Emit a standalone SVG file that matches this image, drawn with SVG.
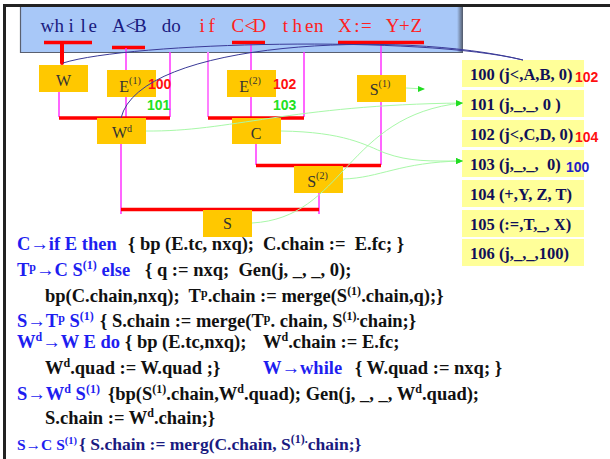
<svg xmlns="http://www.w3.org/2000/svg" width="610" height="459" viewBox="0 0 610 459">
  <style>
    .lbl { font-family: "Liberation Serif", serif; font-size: 16px; fill: #333; text-anchor: middle; }
    .sup { font-size: 10px; }
    .box { fill: #FFC800; }
    .quad { fill: #FFFF99; }
    .qt { font-family: "Liberation Serif", serif; font-weight: bold; font-size: 16.5px; fill: #101058; }
    .num { font-family: "Liberation Sans", Arial, sans-serif; font-weight: bold; font-size: 14px; }
    .red { fill: #FF1010; }
    .grn { fill: #22E022; }
    .mag { stroke: #FF33FF; stroke-width: 1.5; fill: none; }
    .bar { stroke: #FF0000; stroke-width: 3.5; fill: none; }
    .blue { stroke: #3A3A98; stroke-width: 1; fill: none; }
    .green { stroke: #A8F8A8; stroke-width: 1; fill: none; }
    .code { font-family: "Liberation Serif", serif; font-weight: bold; font-size: 18.5px; fill: #111; }
    .prod { fill: #1E1EF0; }
    .navy { fill: #1A1A80; }
    .s { font-size: 12px; }
    .title { font-family: "Liberation Serif", serif; font-size: 19px; text-anchor: middle; }
  </style>
  <defs>
    <marker id="garrow" markerUnits="userSpaceOnUse" markerWidth="7" markerHeight="6" refX="6" refY="3" orient="auto">
      <path d="M0,0 L7,3 L0,6 z" fill="#22DD22"/>
    </marker>
    <linearGradient id="edge" x1="0" y1="0" x2="1" y2="0">
      <stop offset="0" stop-color="#A8C8F8"/>
      <stop offset="1" stop-color="#505868"/>
    </linearGradient>
  </defs>

  <rect width="610" height="459" fill="#fff"/>
  <!-- page frame -->
  <path d="M4.5,459 V5.5 H610" fill="none" stroke="#222" stroke-width="3"/>

  <!-- source statement banner -->
  <g id="banner">
    <rect x="20" y="7" width="443" height="45.5" fill="#A8C8F8"/>
    <rect x="457" y="7" width="6" height="45.5" fill="url(#edge)"/>
    <path d="M20.5,7 V52.5 H463" fill="none" stroke="#5a6070" stroke-width="1.2"/>
    <text class="title" y="32">
      <tspan fill="#1A1A80" x="47.45 59.35 71.25 83.15 95.05">while</tspan>
      <tspan fill="#1A1A80" x="118.85 130.75 142.65">A&lt;B</tspan>
      <tspan fill="#1A1A80" x="166.45 178.35">do</tspan>
      <tspan fill="#FF2020" x="202.15 214.05">if</tspan>
      <tspan fill="#FF2020" x="237.85 249.75 261.65">C&lt;D</tspan>
      <tspan fill="#FF2020" x="285.45 297.35 309.25 321.15">then</tspan>
      <tspan fill="#FF2020" x="344.95 356.85 368.75">X:=</tspan>
      <tspan fill="#FF2020" x="392.55 404.45 416.35">Y+Z</tspan>
    </text>
    <!-- token underlines -->
    <path class="bar" d="M44,42.5 H92 M112,47.5 H145 M232,42.5 H265 M338,42.5 H424"/>
  </g>

  <!-- parse-tree links -->
  <g id="connectors">
    <path d="M62,44 V63" stroke="#FF0000" stroke-width="4" fill="none"/>
    <circle cx="62" cy="63" r="2" fill="#FF0000"/>
    <path class="mag" d="M126,48 V117 M170,52 V117 M304,52 V117 M251,44 V117 M381,44 V165 M59,92 V117 M256,144 V165 M121,144 V214 M319,193 V214"/>
    <path d="M208,52 V117" stroke="#FF80FF" stroke-width="2" fill="none"/>
    <path class="bar" d="M59,118 H170 M208,118 H304 M256,165.5 H381 M121,209.5 H319"/>
  </g>

  <!-- grammar symbols -->
  <g id="node-W"><rect class="box" x="39" y="65" width="49" height="27"/><text class="lbl" x="63.5" y="86">W</text></g>
  <g id="node-E1"><rect class="box" x="107" y="70" width="49" height="27"/><text class="lbl" x="130" y="92">E<tspan class="sup" dy="-8">(1)</tspan></text></g>
  <g id="node-E2"><rect class="box" x="227" y="70" width="49" height="27"/><text class="lbl" x="250" y="92">E<tspan class="sup" dy="-8">(2)</tspan></text></g>
  <g id="node-S1"><rect class="box" x="357" y="75" width="49" height="27"/><text class="lbl" x="380" y="95">S<tspan class="sup" dy="-8">(1)</tspan></text></g>
  <g id="node-Wd"><rect class="box" x="97" y="118" width="49" height="26"/><text class="lbl" x="122" y="138">W<tspan class="sup" dy="-6">d</tspan></text></g>
  <g id="node-C"><rect class="box" x="232" y="118" width="49" height="26"/><text class="lbl" x="256" y="139">C</text></g>
  <g id="node-S2"><rect class="box" x="294" y="166" width="49" height="27"/><text class="lbl" x="317.5" y="187">S<tspan class="sup" dy="-8">(2)</tspan></text></g>
  <g id="node-S"><rect class="box" x="203" y="210" width="49" height="27"/><text class="lbl" x="227.5" y="229">S</text></g>

  <!-- true / false exits of E(1), E(2) -->
  <g id="exits">
    <text class="num red" x="148" y="89">100</text>
    <text class="num grn" x="147" y="110">101</text>
    <text class="num red" x="273" y="89">102</text>
    <text class="num grn" x="273" y="110">103</text>
  </g>

  <!-- quadruples -->
  <g id="quads">
    <g id="q100"><rect class="quad" x="462" y="60" width="122" height="27"/><text class="qt" x="470" y="80">100 (j&lt;,A,B, 0)</text></g>
    <g id="q101"><rect class="quad" x="462" y="90" width="122" height="27"/><text class="qt" x="470" y="110">101 (j,_,_, 0 )</text></g>
    <g id="q102"><rect class="quad" x="462" y="120" width="122" height="27"/><text class="qt" x="470" y="140">102 (j&lt;,C,D, 0)</text></g>
    <g id="q103"><rect class="quad" x="462" y="150" width="122" height="27"/><text class="qt" x="470" y="170">103 (j,_,_, &#160;0)</text></g>
    <g id="q104"><rect class="quad" x="462" y="180" width="122" height="27"/><text class="qt" x="470" y="200">104 (+,Y, Z, T)</text></g>
    <g id="q105"><rect class="quad" x="462" y="210" width="122" height="27"/><text class="qt" x="470" y="230">105 (:=,T,_, X)</text></g>
    <g id="q106"><rect class="quad" x="462" y="239" width="122" height="27"/><text class="qt" x="470" y="259">106 (j,_,_,100)</text></g>
    <text class="num red" x="575" y="82">102</text>
    <text class="num red" x="575" y="142">104</text>
    <text class="num" fill="#2020C8" x="566" y="172">100</text>
  </g>

  <!-- quad references -->
  <g id="links">
    <path class="blue" d="M63,63 C130,42 420,35 523,60"/>
    <path class="blue" d="M121,118 C140,40 400,30 523,60"/>
    <path class="green" d="M406,88 C412,88 418,89 424,89" marker-end="url(#garrow)"/>
    <path class="green" d="M146,131 C230,132 290,105 462,103" marker-end="url(#garrow)"/>
    <path class="green" d="M252,223 C345,218 345,115 462,103" marker-end="url(#garrow)"/>
    <path class="green" d="M281,131 C345,132 365,145 385,153 C410,162 430,161 462,161" marker-end="url(#garrow)"/>
    <path class="green" d="M343,179 C380,178 400,162 462,161" marker-end="url(#garrow)"/>
  </g>

  <!-- semantic rules -->
  <g id="rules" class="code">
    <text x="17" y="250" class="prod">C→if E then</text>
    <text x="128" y="250">{ bp (E.tc, nxq);</text>
    <text x="263" y="250">C.chain :=&#160; E.fc; }</text>

    <text x="17" y="276" class="prod">T<tspan class="s" dy="-5">p</tspan><tspan dy="5">→C S</tspan><tspan class="s" dy="-7">(1)</tspan><tspan dy="7"> else</tspan></text>
    <text x="145" y="276">{ q := nxq;&#160; Gen(j, _, _, 0);</text>

    <text x="45" y="302">bp(C.chain,nxq);&#160; T<tspan class="s" dy="-5">p</tspan><tspan dy="5">.chain := merge(S</tspan><tspan class="s" dy="-7">(1)</tspan><tspan dy="7">.chain,q);}</tspan></text>

    <text x="17" y="327" class="prod">S→T<tspan class="s" dy="-5">p</tspan><tspan dy="5"> S</tspan><tspan class="s" dy="-7">(1)</tspan></text>
    <text x="100" y="327">{ S.chain := merge(T<tspan class="s" dy="-5">p</tspan><tspan dy="5">. chain, S</tspan><tspan class="s" dy="-7">(1).</tspan><tspan dy="7">chain;}</tspan></text>

    <text x="17" y="348" class="prod">W<tspan class="s" dy="-7">d</tspan><tspan dy="7">→W E do</tspan></text>
    <text x="125" y="348">{ bp (E.tc,nxq);</text>
    <text x="263" y="348">W<tspan class="s" dy="-7">d</tspan><tspan dy="7">.chain := E.fc;</tspan></text>

    <text x="45" y="374">W<tspan class="s" dy="-7">d</tspan><tspan dy="7">.quad := W.quad ;}</tspan></text>
    <text x="263" y="374" class="prod">W→while</text>
    <text x="355" y="374">{ W.quad := nxq; }</text>

    <text x="17" y="400" class="prod">S→W<tspan class="s" dy="-7">d</tspan><tspan dy="7"> S</tspan><tspan class="s" dy="-7">(1)</tspan></text>
    <text x="108" y="400">{bp(S<tspan class="s" dy="-7">(1)</tspan><tspan dy="7">.chain,W</tspan><tspan class="s" dy="-7">d</tspan><tspan dy="7">.quad); Gen(j, _, _, W</tspan><tspan class="s" dy="-7">d</tspan><tspan dy="7">.quad);</tspan></text>

    <text x="45" y="424">S.chain := W<tspan class="s" dy="-7">d</tspan><tspan dy="7">.chain;}</tspan></text>

    <text x="17" y="450" class="prod" font-size="15.5">S→C S<tspan font-size="10.5" dy="-6">(1)</tspan></text>
    <text x="79" y="450" class="navy" font-size="17.5">{ S.chain := merg(C.chain, S<tspan class="s" dy="-7">(1).</tspan><tspan dy="7">chain;}</tspan></text>
  </g>
</svg>
